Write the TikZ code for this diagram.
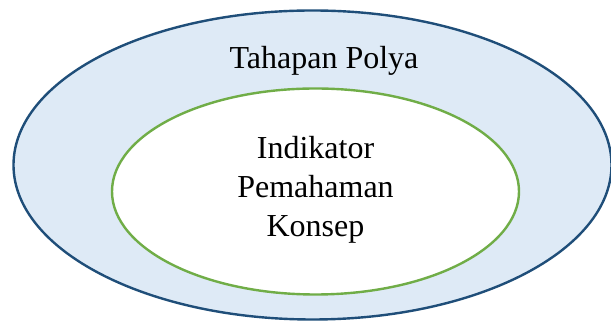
\documentclass[tikz,border=0pt]{standalone}
\usepackage{fontspec}
\setmainfont{Liberation Serif}
\usetikzlibrary{shapes.geometric}
\definecolor{outerfill}{HTML}{DEEAF6}
\definecolor{outerline}{HTML}{1F4E79}
\definecolor{innerline}{HTML}{70AD47}
\tikzset{
  ring/.style={ellipse, inner sep=0pt, line width=2.4pt},
  lbl/.style={font=\fontsize{32}{39}\selectfont, inner sep=0pt, text=black}
}
\begin{document}
\begin{tikzpicture}[x=1pt,y=1pt]
\useasboundingbox (0,0) rectangle (611,323);
\node[ring, draw=outerline, fill=outerfill, minimum width=598pt, minimum height=309pt] (outer) at (312.5,158) {};
\node[ring, draw=innerline, fill=white, minimum width=407pt, minimum height=206pt] (inner) at (315.5,131.5) {};
\node[lbl, anchor=base] (title) at (324,254) {Tahapan Polya};
\node[lbl, align=center, anchor=base] (ind) at (315.5,86) {Indikator\\Pemahaman\\Konsep};
\end{tikzpicture}
\end{document}
